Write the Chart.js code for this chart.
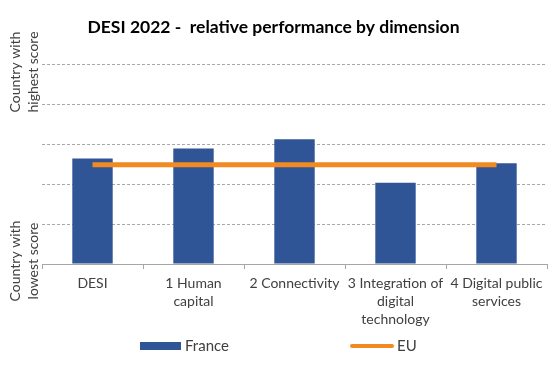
<!DOCTYPE html>
<html>
<head>
<meta charset="utf-8">
<script src="https://cdn.jsdelivr.net/npm/chart.js@4.4.0/dist/chart.umd.min.js"></script>
<style>
  html, body { margin: 0; padding: 0; background: #fff; }
  #wrap { width: 560px; height: 374px; }
</style>
</head>
<body>
<div id="wrap"><canvas id="desi" width="560" height="374"></canvas></div>
<script>
const categories = [
  'DESI',
  ['1 Human', 'capital'],
  '2 Connectivity',
  ['3 Integration of', 'digital', 'technology'],
  ['4 Digital public', 'services']
];
const franceValues = [2.64, 2.89, 3.12, 2.03, 2.52];
const euValues = [2.48, 2.48, 2.48, 2.48, 2.48];
const topLabel = ['Country with', 'highest score'];
const bottomLabel = ['Country with', 'lowest score'];

const BLUE = '#2F5597';
const ORANGE = '#F18A21';
const TEXT = '#404040';
const FONT = 'Lato, "Open Sans", sans-serif';

// legend + the two rotated side captions
const extras = {
  id: 'extras',
  afterDraw(chart) {
    const c = chart.ctx;
    c.save();
    c.fillStyle = TEXT;
    c.font = '15px ' + FONT;
    c.textBaseline = 'middle';
    c.textAlign = 'left';

    // legend
    c.fillStyle = chart.data.datasets[1].backgroundColor;
    c.fillRect(140, 342, 41, 8);
    c.fillStyle = TEXT;
    c.fillText(chart.data.datasets[1].label, 185, 346);

    c.strokeStyle = chart.data.datasets[0].borderColor;
    c.lineWidth = 4;
    c.lineCap = 'round';
    c.beginPath();
    c.moveTo(352, 346);
    c.lineTo(392, 346);
    c.stroke();
    c.fillText(chart.data.datasets[0].label, 397, 346);

    // y side captions
    c.font = '14px ' + FONT;
    c.textAlign = 'center';
    const drawSide = (lines, cy) => {
      c.save();
      c.translate(24, cy);
      c.rotate(-Math.PI / 2);
      c.fillText(lines[0], 0, -9);
      c.fillText(lines[1], 0, 9);
      c.restore();
    };
    drawSide(topLabel, 72);
    drawSide(bottomLabel, 261);
    c.restore();
  }
};

new Chart(document.getElementById('desi'), {
  data: {
    labels: categories,
    datasets: [
      {
        type: 'line',
        label: 'EU',
        data: euValues,
        borderColor: ORANGE,
        borderWidth: 5,
        pointRadius: 0,
        order: 0
      },
      {
        type: 'bar',
        label: 'France',
        data: franceValues,
        backgroundColor: BLUE,
        barPercentage: 0.4,
        categoryPercentage: 1.0,
        order: 1
      }
    ]
  },
  options: {
    responsive: false,
    animation: false,
    layout: { padding: { left: 0, right: 13, top: 0, bottom: 0 } },
    plugins: {
      legend: { display: false },
      tooltip: { enabled: false },
      title: {
        display: true,
        text: 'DESI 2022 -  relative performance by dimension',
        color: '#000',
        font: { family: FONT, size: 17.5, weight: 'bold', lineHeight: 1.2 },
        padding: { top: 17, bottom: 26 }
      }
    },
    scales: {
      x: {
        afterFit(scale) { scale.height = 110; },
        grid: {
          drawOnChartArea: false,
          drawTicks: true,
          tickLength: 5,
          tickColor: '#A6A6A6'
        },
        border: { display: true, color: '#A6A6A6', width: 1 },
        ticks: {
          color: TEXT,
          padding: 5,
          maxRotation: 0,
          autoSkip: false,
          font: { family: FONT, size: 14, lineHeight: 1.3 }
        }
      },
      y: {
        min: 0,
        max: 5,
        afterFit(scale) { scale.width = 42; },
        ticks: { display: false, stepSize: 1 },
        grid: {
          drawTicks: false,
          color: (ctx) => ctx.tick && ctx.tick.value === 0 ? 'rgba(0,0,0,0)' : '#A8A8A8'
        },
        border: { display: false, dash: [3, 2] }
      }
    }
  },
  plugins: [extras]
});
</script>
</body>
</html>
